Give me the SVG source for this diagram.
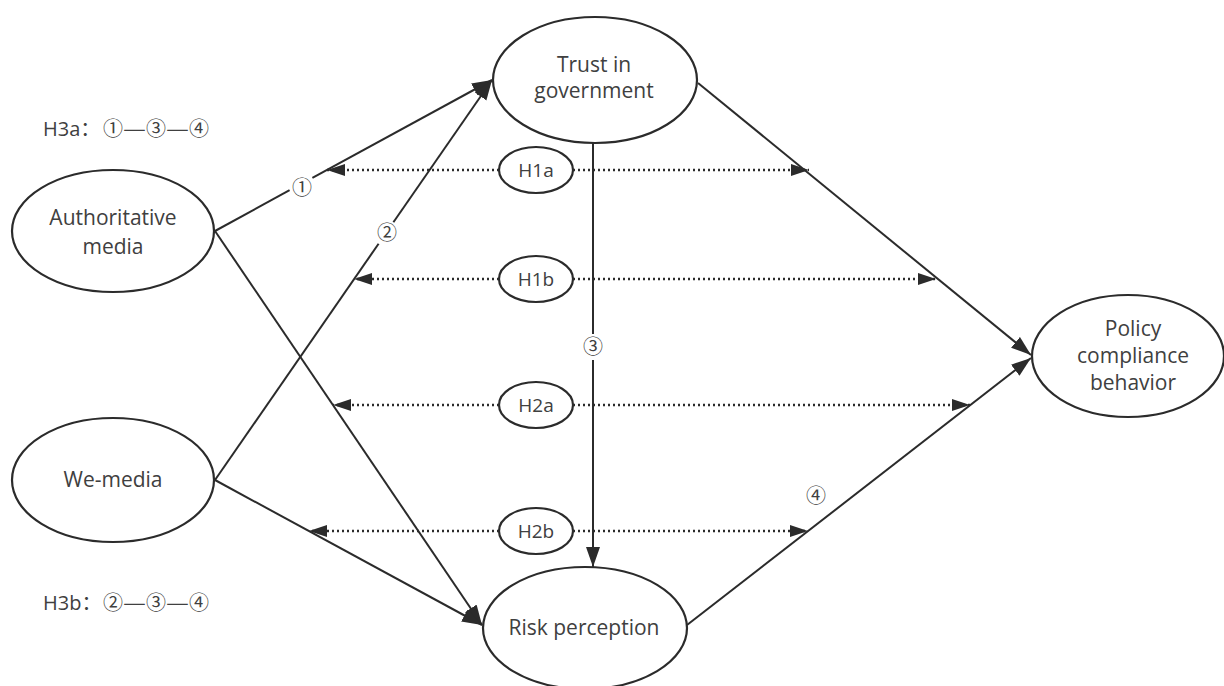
<svg xmlns="http://www.w3.org/2000/svg" width="1224" height="686" viewBox="0 0 1224 686">
<style>
.node{fill:#fff;stroke:#2b2b2b;stroke-width:2.2}
.hnode{fill:#fff;stroke:#2b2b2b;stroke-width:2.2}
.t{font-family:"Open Sans","Noto Sans",sans-serif;font-size:21px;fill:#404040;text-anchor:middle}
.ht{font-family:"Open Sans","Noto Sans",sans-serif;font-size:19px;fill:#404040;text-anchor:middle}
.num{font-family:"Noto Sans CJK SC","DejaVu Sans",sans-serif;font-size:20px;fill:#404040;text-anchor:middle}
.note{font-family:"Open Sans","Noto Sans CJK SC",sans-serif;font-size:20px;fill:#404040}
.nn{font-family:"Noto Sans CJK SC","DejaVu Sans",sans-serif;font-size:20px;fill:#404040}
.solid{stroke:#2b2b2b;stroke-width:2;fill:none}
.dot{stroke:#2b2b2b;stroke-width:2.5;fill:none;stroke-dasharray:2 3}
</style>
<defs>
<marker id="ah" markerUnits="userSpaceOnUse" markerWidth="22" markerHeight="16" refX="20" refY="7" orient="auto">
<path d="M0,0 L20,7 L0,14 z" fill="#2b2b2b"/>
</marker>
<marker id="ad" markerUnits="userSpaceOnUse" markerWidth="20" markerHeight="14" refX="18" refY="6" orient="auto">
<path d="M0,0 L18,6 L0,12 z" fill="#2b2b2b"/>
</marker>
</defs>
<rect width="1224" height="686" fill="#ffffff"/>

<g id="connectors">
<!-- Authoritative media -> Trust (1) -->
<line class="solid" x1="215" y1="231" x2="289.6" y2="190.2"/>
<line class="solid" x1="312.4" y1="177.8" x2="492" y2="80" marker-end="url(#ah)"/>
<!-- We-media -> Trust (2) -->
<line class="solid" x1="215" y1="480" x2="378.6" y2="243.7"/>
<line class="solid" x1="393.4" y1="222.3" x2="492" y2="80" marker-end="url(#ah)"/>
<!-- Authoritative media -> Risk -->
<line class="solid" x1="215" y1="231" x2="482" y2="625" marker-end="url(#ah)"/>
<!-- We-media -> Risk -->
<line class="solid" x1="215" y1="480" x2="482" y2="625" marker-end="url(#ah)"/>
<!-- Trust -> Risk (3) -->
<line class="solid" x1="593" y1="143" x2="593" y2="334"/>
<line class="solid" x1="593" y1="360" x2="593" y2="567" marker-end="url(#ah)"/>
<!-- Trust -> Policy -->
<line class="solid" x1="698" y1="83" x2="1031" y2="355" marker-end="url(#ah)"/>
<!-- Risk -> Policy (4) -->
<line class="solid" x1="687" y1="625" x2="1031" y2="358" marker-end="url(#ah)"/>

<!-- dotted hypothesis lines -->
<line class="dot" x1="499" y1="170" x2="327" y2="170" marker-end="url(#ad)"/>
<line class="dot" x1="573" y1="170" x2="809" y2="170" marker-end="url(#ad)"/>
<line class="dot" x1="499" y1="279" x2="354" y2="279" marker-end="url(#ad)"/>
<line class="dot" x1="573" y1="279" x2="936" y2="279" marker-end="url(#ad)"/>
<line class="dot" x1="499" y1="405" x2="333" y2="405" marker-end="url(#ad)"/>
<line class="dot" x1="573" y1="405" x2="970" y2="405" marker-end="url(#ad)"/>
<line class="dot" x1="499" y1="531" x2="309" y2="531" marker-end="url(#ad)"/>
<line class="dot" x1="573" y1="531" x2="808" y2="531" marker-end="url(#ad)"/>

<text class="num" x="302" y="195">①</text>
<text class="num" x="387" y="240">②</text>
<text class="num" x="593" y="354">③</text>
<text class="num" x="816" y="503">④</text>
</g>

<g id="node-auth">
<ellipse class="node" cx="113" cy="231" rx="101" ry="61"/>
<text class="t" x="113" y="225">Authoritative</text>
<text class="t" x="113" y="254">media</text>
</g>
<g id="node-we">
<ellipse class="node" cx="113" cy="480" rx="101" ry="62"/>
<text class="t" x="113" y="487">We-media</text>
</g>
<g id="node-trust">
<ellipse class="node" cx="595" cy="80" rx="102" ry="63"/>
<text class="t" x="594" y="72">Trust in</text>
<text class="t" x="594" y="98">government</text>
</g>
<g id="node-risk">
<ellipse class="node" cx="585" cy="628" rx="102" ry="61"/>
<text class="t" x="584" y="635">Risk perception</text>
</g>
<g id="node-policy">
<ellipse class="node" cx="1128" cy="356" rx="96" ry="61"/>
<text class="t" x="1133" y="336">Policy</text>
<text class="t" x="1133" y="363">compliance</text>
<text class="t" x="1133" y="390">behavior</text>
</g>
<g id="node-h1a">
<ellipse class="hnode" cx="536" cy="170" rx="37" ry="23"/>
<text class="ht" x="536" y="177">H1a</text>
</g>
<g id="node-h1b">
<ellipse class="hnode" cx="536" cy="279" rx="37" ry="23"/>
<text class="ht" x="536" y="286">H1b</text>
</g>
<g id="node-h2a">
<ellipse class="hnode" cx="536" cy="405" rx="37" ry="23"/>
<text class="ht" x="536" y="412">H2a</text>
</g>
<g id="node-h2b">
<ellipse class="hnode" cx="536" cy="531" rx="37" ry="23"/>
<text class="ht" x="536" y="538">H2b</text>
</g>

<g id="notes">
<text class="note" x="43" y="136">H3a：<tspan class="nn" x="103">①</tspan><tspan class="nn" x="123" textLength="23" lengthAdjust="spacingAndGlyphs">—</tspan><tspan class="nn" x="146">③</tspan><tspan class="nn" x="166" textLength="23" lengthAdjust="spacingAndGlyphs">—</tspan><tspan class="nn" x="189">④</tspan></text>
<text class="note" x="43" y="610">H3b：<tspan class="nn" x="103">②</tspan><tspan class="nn" x="123" textLength="23" lengthAdjust="spacingAndGlyphs">—</tspan><tspan class="nn" x="146">③</tspan><tspan class="nn" x="166" textLength="23" lengthAdjust="spacingAndGlyphs">—</tspan><tspan class="nn" x="189">④</tspan></text>
</g>
</svg>
